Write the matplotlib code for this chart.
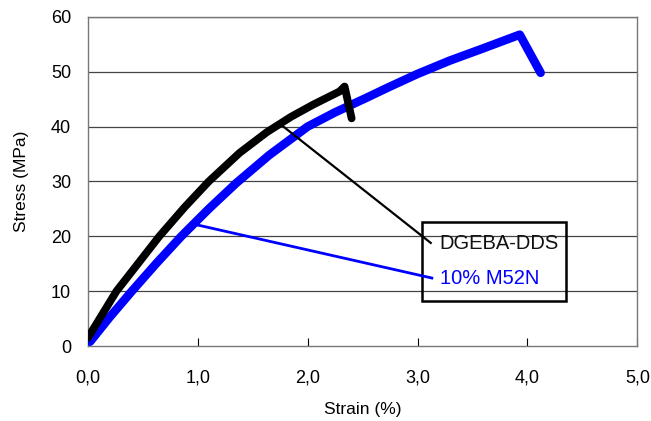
import matplotlib
matplotlib.use("Agg")
from matplotlib import pyplot as plt

strain_ref = [0.0, 0.26, 0.65, 0.88, 1.1, 1.38, 1.63, 1.85, 2.05, 2.29, 2.336, 2.40]
stress_ref = [1.5, 10.0, 20.0, 25.3, 30.0, 35.2, 39.0, 41.8, 44.0, 46.4, 47.3, 41.5]
strain_m52n = [0.02, 0.2, 0.4, 0.62, 0.85, 1.1, 1.35, 1.65, 2.0, 2.25, 2.53, 2.75,
               3.0, 3.29, 3.59, 3.93, 4.12]
stress_m52n = [0.8, 5.3, 10.0, 15.0, 20.0, 25.0, 29.7, 34.8, 40.0, 42.6, 45.2, 47.3,
               49.6, 52.0, 54.2, 56.75, 49.8]
xticks = [0, 1, 2, 3, 4, 5]
xlabels = ["0,0", "1,0", "2,0", "3,0", "4,0", "5,0"]
yticks = [0, 10, 20, 30, 40, 50, 60]

plt.rcParams['font.family'] = ['Liberation Sans', 'DejaVu Sans']
fig = plt.figure(figsize=(6.51, 4.21), dpi=100)
ax = fig.add_axes([0.135, 0.178, 0.844, 0.782])

for y in yticks[1:]:
    ax.axhline(y, color='#444444', lw=0.9, zorder=1)

ax.plot(strain_m52n, stress_m52n, c='#0000ff', lw=6.2, solid_capstyle='round',
        solid_joinstyle='round', zorder=3)
ax.plot(strain_ref, stress_ref, c='black', lw=5.6, solid_capstyle='round',
        solid_joinstyle='round', zorder=4)

ax.set_xlim(0, 5)
ax.set_ylim(0, 60)
ax.set_xticks(xticks)
ax.set_xticklabels(xlabels)
ax.set_yticks(yticks)
ax.tick_params(axis='x', direction='in', length=6, labelsize=13, pad=17)
ax.tick_params(axis='y', length=0, labelsize=13, pad=12)
for s in ax.spines.values():
    s.set_color('#777777')
    s.set_linewidth(1.0)
ax.set_xlabel("Strain (%)", fontsize=12.5, labelpad=11)
ax.set_ylabel("Stress (MPa)", fontsize=12.5, labelpad=16)

# label box with leader lines
ax.plot([1.76, 3.12], [40.3, 18.8], c='black', lw=1.6, zorder=6)
ax.plot([0.99, 3.13], [22.1, 12.4], c='#0000ff', lw=2, zorder=6)
ax.text(3.2, 18.7, "DGEBA-DDS", fontsize=14.5, color='#111111', va='center', zorder=6)
ax.text(3.2, 12.3, "10% M52N", fontsize=14.5, color='#0000ff', va='center', zorder=6)
ax.add_patch(plt.Rectangle((3.045, 8.2), 1.31, 14.5, fill=False,
                           ec='black', lw=1.8, zorder=5))

fig.savefig("out.png", dpi=100)
